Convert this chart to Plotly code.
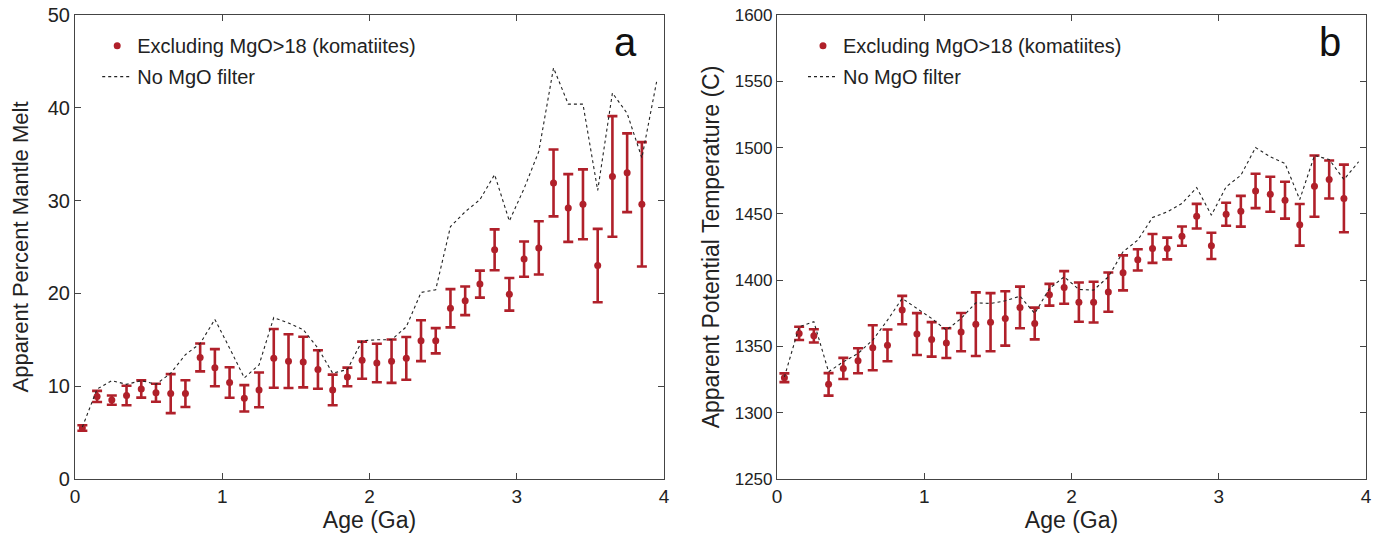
import plotly.graph_objects as go
from plotly.subplots import make_subplots

# ---- data ----
age_err = [round(0.05 + 0.1 * i, 2) for i in range(39)]
age_line = [round(0.05 + 0.1 * i, 2) for i in range(40)]

melt_mean = [5.5, 8.9, 8.5, 9.0, 9.7, 9.3, 9.2, 9.2, 13.1, 12.0,
             10.4, 8.7, 9.6, 13.0, 12.7, 12.6, 11.8, 9.6, 11.0, 12.8,
             12.5, 12.7, 13.0, 14.9, 14.9, 18.4, 19.2, 21.0, 24.7, 19.9,
             23.7, 24.9, 31.9, 29.2, 29.6, 23.0, 32.6, 33.0, 29.6]
melt_err = [0.3, 0.6, 0.5, 1.05, 0.93, 0.97, 2.1, 1.44, 1.5, 2.0,
            1.65, 1.42, 1.87, 3.16, 2.9, 2.73, 2.08, 1.65, 1.0, 2.0,
            2.08, 2.34, 2.3, 2.2, 1.36, 2.06, 1.54, 1.45, 2.2, 1.76,
            1.9, 2.87, 3.6, 3.65, 3.77, 3.95, 6.5, 4.24, 6.7]
melt_nofilter = [5.6, 9.7, 10.6, 10.2, 10.6, 10.2, 11.4, 13.4, 14.6, 17.2,
                 14.1, 10.9, 12.3, 17.4, 16.8, 16.1, 14.1, 11.4, 11.8, 14.9,
                 15.0, 15.0, 16.4, 20.1, 20.4, 27.2, 28.8, 30.1, 32.8, 27.8,
                 31.3, 35.3, 44.3, 40.4, 40.4, 31.1, 41.6, 39.4, 34.6, 42.8]

tp_mean = [1326.4, 1359.8, 1358.0, 1321.4, 1333.4, 1339.2, 1349.0, 1350.8, 1377.4, 1359.3,
           1355.3, 1352.5, 1360.8, 1366.8, 1368.3, 1371.1, 1379.4, 1367.3, 1389.0, 1394.5,
           1383.4, 1383.4, 1391.0, 1405.5, 1415.3, 1423.9, 1423.9, 1433.2, 1448.2, 1425.9,
           1449.7, 1452.0, 1467.3, 1464.8, 1460.3, 1441.7, 1470.9, 1475.9, 1461.6]
tp_err = [3.3, 5.0, 5.0, 8.5, 8.0, 9.4, 17.0, 12.0, 10.7, 15.8,
          13.0, 11.2, 14.4, 24.0, 21.9, 20.5, 15.7, 12.0, 8.2, 12.3,
          14.8, 15.4, 14.8, 13.2, 8.0, 10.9, 8.2, 7.3, 9.3, 9.9,
          8.7, 11.6, 13.0, 13.2, 13.9, 15.7, 23.1, 14.3, 25.5]
tp_nofilter = [1327.0, 1364.8, 1368.6, 1330.9, 1338.4, 1344.7, 1354.8, 1369.8, 1386.2, 1378.6,
               1371.1, 1362.3, 1371.1, 1382.9, 1382.4, 1384.4, 1387.9, 1374.9, 1393.7, 1402.5,
               1393.0, 1392.5, 1402.5, 1421.4, 1430.2, 1447.2, 1451.5, 1457.8, 1469.8, 1449.0,
               1470.4, 1479.1, 1500.0, 1493.0, 1488.0, 1460.8, 1494.0, 1491.0, 1475.9, 1489.3]

x_ticks = [0, 1, 2, 3, 4]
melt_ticks = [0, 10, 20, 30, 40, 50]
tp_ticks = [1250, 1300, 1350, 1400, 1450, 1500, 1550, 1600]

name_err = "Excluding MgO>18 (komatiites)"
name_line = "No MgO filter"
red = "#B0202A"
ink = "#222222"
font_family = "Liberation Sans, Arial, sans-serif"

fig = make_subplots(rows=1, cols=2, horizontal_spacing=0.0876)

for col, (mean, err, nof, leg) in enumerate(
        [(melt_mean, melt_err, melt_nofilter, "legend"),
         (tp_mean, tp_err, tp_nofilter, "legend2")], start=1):
    fig.add_trace(go.Scatter(
        x=age_err, y=mean, mode="markers", name=name_err, legendgroup="e%d" % col,
        marker=dict(color=red, size=7),
        error_y=dict(type="data", array=err, color=red, thickness=2.6, width=5),
        legend=leg), row=1, col=col)
    fig.add_trace(go.Scatter(
        x=age_line, y=nof, mode="lines", name=name_line, legendgroup="n%d" % col,
        line=dict(color=ink, width=1.1, dash="dot"),
        legend=leg), row=1, col=col)

axis_common = dict(showline=True, linecolor="#444444", linewidth=1.2, mirror="allticks",
                   ticks="inside", ticklen=6, tickcolor="#444444", showgrid=False,
                   zeroline=False, automargin=False, ticklabeloverflow="allow")

fig.update_xaxes(range=[0, 4], tickvals=x_ticks, tickfont=dict(size=19, color=ink),
                 title=dict(text="Age (Ga)", font=dict(size=23, color=ink), standoff=4),
                 **axis_common)
fig.update_yaxes(**axis_common)
fig.update_yaxes(range=[0, 50], tickvals=melt_ticks, row=1, col=1,
                 tickfont=dict(size=20, color=ink),
                 title=dict(text="Apparent Percent Mantle Melt", font=dict(size=22, color=ink), standoff=12))
fig.update_yaxes(range=[1250, 1600], tickvals=tp_ticks, row=1, col=2,
                 tickfont=dict(size=17, color=ink),
                 title=dict(text="Apparent Potential Temperature (C)", font=dict(size=23, color=ink), standoff=8))

leg_common = dict(yanchor="top", xanchor="left", bgcolor="rgba(0,0,0,0)",
                  font=dict(size=20, color=ink), tracegroupgap=2, itemwidth=30)
fig.update_layout(
    width=1384, height=541,
    margin=dict(l=75, r=18, t=15, b=62),
    paper_bgcolor="white", plot_bgcolor="white",
    font=dict(family=font_family, color=ink),
    legend=dict(x=0.0172, y=0.976, **leg_common),
    legend2=dict(x=0.5639, y=0.976, **leg_common),
    annotations=[
        dict(text="a", xref="x domain", yref="y domain", x=0.934, y=0.942,
             xanchor="center", yanchor="middle", showarrow=False, font=dict(size=40, color="#111111")),
        dict(text="b", xref="x2 domain", yref="y2 domain", x=0.939, y=0.942,
             xanchor="center", yanchor="middle", showarrow=False, font=dict(size=40, color="#111111")),
    ],
)

fig.write_html("out.html", config={"displayModeBar": False},
               post_script="document.body.style.margin='0px';")
